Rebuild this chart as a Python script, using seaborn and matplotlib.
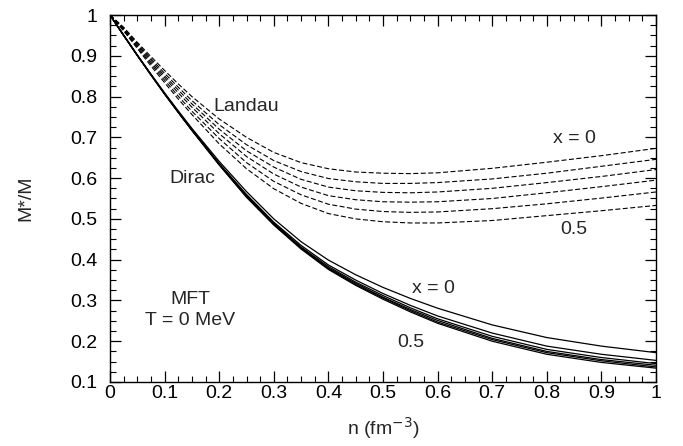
import numpy as np
import pandas as pd
import matplotlib
matplotlib.use("Agg")
import matplotlib.pyplot as plt
import seaborn as sns
from matplotlib.ticker import MultipleLocator, FuncFormatter

# density grid (fm^-3)
n = [0.0, 0.025, 0.05, 0.075, 0.1, 0.125, 0.15, 0.2, 0.25, 0.3,
     0.35, 0.4, 0.45, 0.5, 0.55, 0.6, 0.7, 0.8, 0.9, 1.0]

# Dirac effective mass M*/M, x = 0 ... 0.5
dirac_x0  = [1.000, 0.951, 0.902, 0.855, 0.809, 0.765, 0.722, 0.641, 0.567, 0.500,
             0.444, 0.399, 0.363, 0.332, 0.305, 0.281, 0.240, 0.209, 0.188, 0.172]
dirac_x01 = [1.000, 0.950, 0.901, 0.854, 0.807, 0.763, 0.719, 0.636, 0.560, 0.492,
             0.435, 0.387, 0.350, 0.317, 0.288, 0.262, 0.220, 0.188, 0.168, 0.153]
dirac_x02 = [1.000, 0.950, 0.901, 0.854, 0.807, 0.762, 0.718, 0.635, 0.557, 0.490,
             0.431, 0.383, 0.345, 0.312, 0.282, 0.255, 0.212, 0.180, 0.160, 0.145]
dirac_x03 = [1.000, 0.950, 0.901, 0.853, 0.807, 0.762, 0.718, 0.634, 0.556, 0.488,
             0.429, 0.380, 0.342, 0.308, 0.278, 0.251, 0.207, 0.175, 0.155, 0.141]
dirac_x04 = [1.000, 0.950, 0.901, 0.853, 0.806, 0.761, 0.717, 0.633, 0.554, 0.486,
             0.428, 0.378, 0.339, 0.306, 0.275, 0.247, 0.204, 0.172, 0.152, 0.137]
dirac_x05 = [1.000, 0.950, 0.901, 0.853, 0.806, 0.761, 0.717, 0.632, 0.553, 0.485,
             0.426, 0.376, 0.337, 0.303, 0.272, 0.244, 0.200, 0.168, 0.148, 0.134]

# Landau effective mass, x = 0 ... 0.5
landau_x0  = [1.000, 0.970, 0.933, 0.898, 0.864, 0.831, 0.800, 0.745, 0.700, 0.663,
              0.638, 0.623, 0.615, 0.612, 0.611, 0.613, 0.624, 0.639, 0.655, 0.673]
landau_x01 = [1.000, 0.968, 0.930, 0.893, 0.857, 0.823, 0.790, 0.731, 0.682, 0.643,
              0.616, 0.599, 0.591, 0.587, 0.587, 0.589, 0.598, 0.612, 0.629, 0.646]
landau_x02 = [1.000, 0.966, 0.927, 0.889, 0.851, 0.816, 0.782, 0.720, 0.667, 0.627,
              0.597, 0.578, 0.569, 0.565, 0.564, 0.566, 0.575, 0.589, 0.604, 0.621]
landau_x03 = [1.000, 0.964, 0.924, 0.884, 0.846, 0.809, 0.774, 0.709, 0.653, 0.610,
              0.578, 0.557, 0.547, 0.542, 0.541, 0.542, 0.550, 0.564, 0.579, 0.595]
landau_x04 = [1.000, 0.962, 0.921, 0.880, 0.840, 0.801, 0.764, 0.697, 0.638, 0.592,
              0.559, 0.536, 0.524, 0.518, 0.516, 0.517, 0.525, 0.537, 0.551, 0.566]
landau_x05 = [1.000, 0.961, 0.918, 0.875, 0.834, 0.794, 0.756, 0.684, 0.623, 0.574,
              0.538, 0.513, 0.500, 0.493, 0.490, 0.490, 0.496, 0.508, 0.520, 0.533]

x_fracs = ["0", "0.1", "0.2", "0.3", "0.4", "0.5"]
dirac = [dirac_x0, dirac_x01, dirac_x02, dirac_x03, dirac_x04, dirac_x05]
landau = [landau_x0, landau_x01, landau_x02, landau_x03, landau_x04, landau_x05]

rows = []
for xf, vals in zip(x_fracs, dirac):
    for nn, v in zip(n, vals):
        rows.append({"n": nn, "m": v, "x": xf, "model": "Dirac"})
for xf, vals in zip(x_fracs, landau):
    for nn, v in zip(n, vals):
        rows.append({"n": nn, "m": v, "x": xf, "model": "Landau"})
df = pd.DataFrame(rows)

sns.set_theme(style="ticks")
plt.rcParams["font.family"] = ["Liberation Sans", "DejaVu Sans"]
FS = 14

fig = plt.figure(figsize=(6.83, 4.46), dpi=100)
ax = fig.add_axes([110 / 683, 1 - 382 / 446, (656 - 110) / 683, (382 - 15) / 446])

for xf in x_fracs:
    sub = df[(df.model == "Dirac") & (df.x == xf)]
    sns.lineplot(data=sub, x="n", y="m", ax=ax, color="black", lw=0.9,
                 estimator=None, sort=False, legend=False)
    sub = df[(df.model == "Landau") & (df.x == xf)]
    sns.lineplot(data=sub, x="n", y="m", ax=ax, color="black", lw=0.8,
                 estimator=None, sort=False, legend=False,
                 linestyle=(0, (4.5, 2.2)))

ax.set_xlim(0, 1)
ax.set_ylim(0.1, 1)
ax.xaxis.set_major_locator(MultipleLocator(0.1))
ax.xaxis.set_minor_locator(MultipleLocator(0.025))
ax.yaxis.set_major_locator(MultipleLocator(0.1))
ax.yaxis.set_minor_locator(MultipleLocator(0.025))
fmt = FuncFormatter(lambda v, p: f"{int(round(v))}" if abs(v - round(v)) < 1e-9 else f"{v:.1f}")
ax.xaxis.set_major_formatter(fmt)
ax.yaxis.set_major_formatter(fmt)
ax.tick_params(which="both", direction="in", top=True, right=True, colors="black", labelsize=FS)
ax.tick_params(which="major", length=8, width=0.9)
ax.tick_params(which="minor", length=4.3, width=0.8)
ax.tick_params(axis="x", which="major", pad=2.5)
ax.tick_params(axis="y", which="major", pad=9)
for s in ax.spines.values():
    s.set_linewidth(1.0)
    s.set_color("black")

ax.set_xlabel("n (fm$^{-3}$)", fontsize=FS, labelpad=9)
ax.set_ylabel("M*/M", fontsize=FS, labelpad=26)

ax.text(0.249, 0.775, "Landau", fontsize=FS, ha="center", va="center")
ax.text(0.150, 0.600, "Dirac", fontsize=FS, ha="center", va="center")
ax.text(0.851, 0.697, "x = 0", fontsize=FS, ha="center", va="center")
ax.text(0.850, 0.474, "0.5", fontsize=FS, ha="center", va="center")
ax.text(0.592, 0.329, "x = 0", fontsize=FS, ha="center", va="center")
ax.text(0.551, 0.198, "0.5", fontsize=FS, ha="center", va="center")
ax.text(0.147, 0.302, "MFT", fontsize=FS, ha="center", va="center")
ax.text(0.147, 0.251, "T = 0 MeV", fontsize=FS, ha="center", va="center")

fig.savefig("out.png", dpi=100)
